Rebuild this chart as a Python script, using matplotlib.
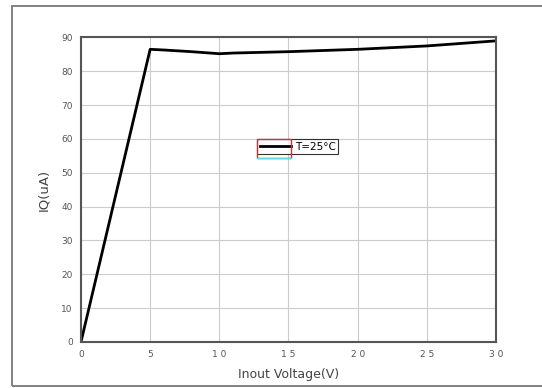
import matplotlib.pyplot as plt
from matplotlib.patches import Rectangle
from matplotlib.lines import Line2D

voltage = [0, 5, 6, 8, 10, 11, 15, 20, 25, 30]
iq = [0, 86.5, 86.3, 85.8, 85.2, 85.4, 85.8, 86.5, 87.5, 89.0]
xticks = [0, 5, 10, 15, 20, 25, 30]
xtick_labels = ["0", "5", "1 0", "1 5", "2 0", "2 5", "3 0"]
yticks = [0, 10, 20, 30, 40, 50, 60, 70, 80, 90]

fig = plt.figure(figsize=(5.42, 3.88), dpi=100)

# outer frame of the screenshot
fig.patches.append(Rectangle((0.022, 0.005), 1.2, 0.98, transform=fig.transFigure,
                             fill=False, edgecolor="#777777", linewidth=1.3))

ax = fig.add_axes([0.1494, 0.1186, 0.7657, 0.7848])
ax.plot(voltage, iq, color="black", linewidth=2, label="T=25°C")

ax.set_xlim(0, 30)
ax.set_ylim(0, 90)
ax.set_xticks(xticks)
ax.set_xticklabels(xtick_labels)
ax.set_yticks(yticks)
ax.tick_params(length=0, labelsize=6.5, colors="#555555", pad=6)
ax.grid(True, color="#cccccc", linewidth=0.8)
for s in ax.spines.values():
    s.set_color("#555555")
    s.set_linewidth(1.5)

ax.set_xlabel("Inout Voltage(V)", fontsize=9, color="#444444", labelpad=6)
ax.set_ylabel("IQ(uA)", fontsize=9.5, color="#444444", labelpad=8)

leg = ax.legend(loc="upper left", bbox_to_anchor=(0.424, 0.666), fontsize=7.5,
                frameon=True, fancybox=False, borderpad=0.25, handlelength=3.0,
                handletextpad=0.4, borderaxespad=0)
leg.get_frame().set_edgecolor("black")
leg.get_frame().set_linewidth(0.8)
ax.add_patch(Rectangle((0.424, 0.605), 0.083, 0.061, transform=ax.transAxes,
                       fill=False, edgecolor="#cc3333", linewidth=1, zorder=6))
ax.add_line(Line2D([0.424, 0.507], [0.605, 0.605], transform=ax.transAxes,
                   color="#66dddd", linewidth=1, zorder=6))

fig.savefig("out.png", dpi=100)
